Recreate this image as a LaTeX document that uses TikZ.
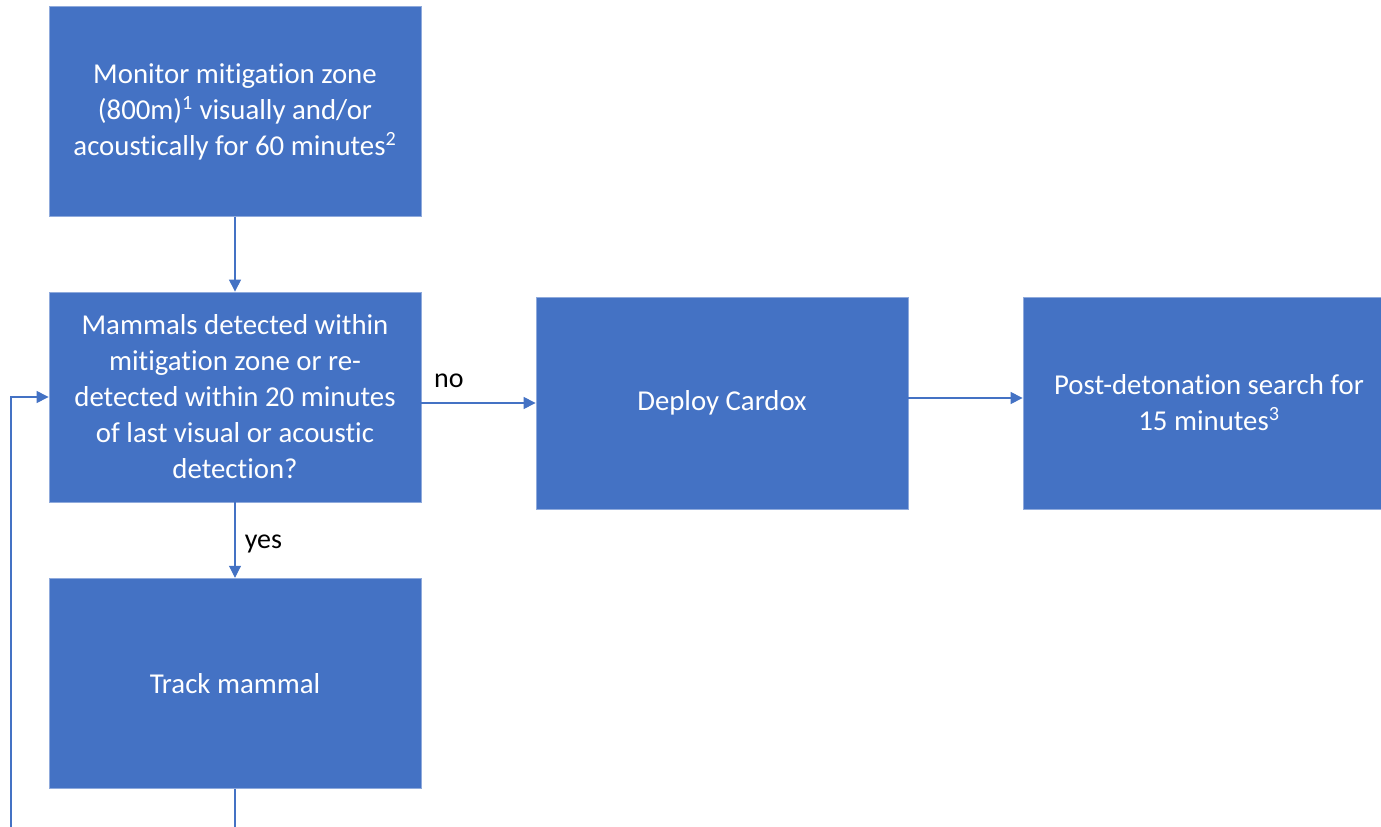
\documentclass[tikz,border=0pt]{standalone}
\usepackage{fontspec}
\setmainfont{Carlito}[Ligatures={NoCommon}]
\usetikzlibrary{arrows.meta}
\definecolor{boxblue}{HTML}{4472C4}
\definecolor{edgeblue}{HTML}{8FAADC}
\tikzset{
  box/.style={rectangle, fill=boxblue, draw=edgeblue, line width=0.6pt,
    minimum width=279pt, minimum height=157.5pt,
    align=center, text=white, font=\fontsize{21.6}{27}\selectfont, inner sep=0pt},
  conn/.style={draw=boxblue, line width=0.8pt},
  arr/.style={conn, -{Triangle[length=9pt,width=9pt]}},
  lbl/.style={text=black, font=\fontsize{21}{25}\selectfont, inner sep=0pt}
}
\begin{document}
\begin{tikzpicture}[x=0.75pt,y=-0.75pt]
\useasboundingbox (0,0) rectangle (1381,827);
\clip (0,0) rectangle (1381,827);
\node[box] (b1) at (235,111.5) {Monitor mitigation zone\\(800m)\textsuperscript{1} visually and/or\\acoustically for 60 minutes\textsuperscript{2}};
\node[box] (b2) at (235,397) {Mammals detected within\\mitigation zone or re-\\detected within 20 minutes\\of last visual or acoustic\\detection?};
\node[box, minimum height=159pt] (b3) at (722,403) {Deploy Cardox};
\node[box, minimum height=159pt] (b4) at (1209,403) {Post-detonation search for\\15 minutes\textsuperscript{3}};
\node[box, minimum height=158pt] (b5) at (235,683.5) {Track mammal};
\coordinate (c1) at (235,830);
\coordinate (c2) at (11,830);
\draw[arr] (b1.south) -- (b2.north);
\draw[arr] (b3.west -| b2.east) -- node[lbl, pos=0.24, above=11pt] (no) {no} (b3.west);
\draw[arr] ([yshift=3.75pt]b3.east) -- ([yshift=3.75pt]b4.west);
\draw[arr] (b2.south) -- node[lbl, pos=0.55, right=7pt] (yes) {yes} (b5.north);
\draw[conn] (b5.south) -- (c1);
\draw[arr] (c2) |- (b2.west);
\end{tikzpicture}
\end{document}
